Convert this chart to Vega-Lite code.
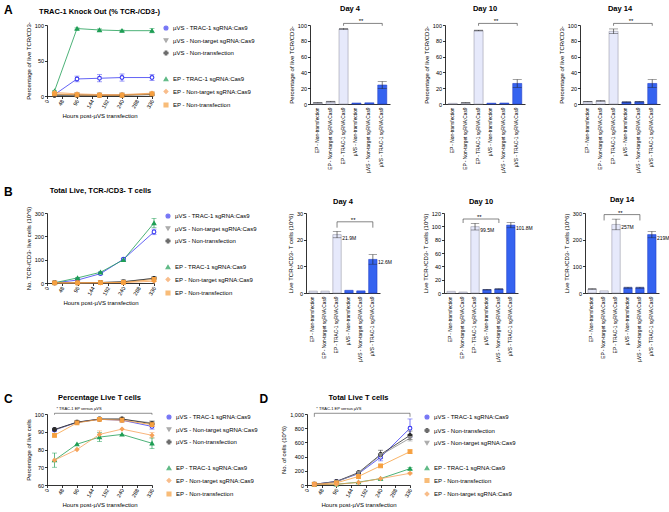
{
"$schema": "https://vega.github.io/schema/vega-lite/v6.json",
"padding": {"left": 3, "top": 3, "right": 2, "bottom": 2},
"config": {
 "font": "Liberation Sans",
 "view": {"stroke": null},
 "axis": {"grid": false, "domainColor": "#000", "domainWidth": 0.8, "tickColor": "#000", "tickWidth": 0.8, "tickSize": 2.5, "labelFontSize": 5.5, "labelColor": "#000", "titleFontSize": 6, "titleFontWeight": "normal", "titleColor": "#000", "labelPadding": 1, "titlePadding": 3, "labelOverlap": false, "labelFlush": false},
 "title": {"fontSize": 7.5, "fontWeight": "bold", "offset": 6, "color": "#000"},
 "legend": {"labelFontSize": 6, "symbolSize": 16, "rowPadding": 3.5, "padding": 0, "offset": 9, "labelLimit": 200, "symbolStrokeWidth": 1.1, "labelOffset": 4, "title": null}
},
"datasets": {
 "lineA": [
  {"g":"µVS - TRAC-1 sgRNA:Cas9","h":24,"v":2,"e":1},{"g":"µVS - TRAC-1 sgRNA:Cas9","h":96,"v":24,"e":4},{"g":"µVS - TRAC-1 sgRNA:Cas9","h":168,"v":25,"e":5},{"g":"µVS - TRAC-1 sgRNA:Cas9","h":240,"v":26,"e":5},{"g":"µVS - TRAC-1 sgRNA:Cas9","h":336,"v":26,"e":4},
  {"g":"µVS - Non-target sgRNA:Cas9","h":24,"v":2,"e":0},{"g":"µVS - Non-target sgRNA:Cas9","h":96,"v":2,"e":0},{"g":"µVS - Non-target sgRNA:Cas9","h":168,"v":1.5,"e":0},{"g":"µVS - Non-target sgRNA:Cas9","h":240,"v":1.5,"e":0},{"g":"µVS - Non-target sgRNA:Cas9","h":336,"v":3,"e":0},
  {"g":"µVS - Non-transfection","h":24,"v":1,"e":0},{"g":"µVS - Non-transfection","h":96,"v":1,"e":0},{"g":"µVS - Non-transfection","h":168,"v":1,"e":0},{"g":"µVS - Non-transfection","h":240,"v":1,"e":0},{"g":"µVS - Non-transfection","h":336,"v":2,"e":0},
  {"g":"EP - TRAC-1 sgRNA:Cas9","h":24,"v":7,"e":1},{"g":"EP - TRAC-1 sgRNA:Cas9","h":96,"v":95,"e":1},{"g":"EP - TRAC-1 sgRNA:Cas9","h":168,"v":93,"e":1.5},{"g":"EP - TRAC-1 sgRNA:Cas9","h":240,"v":92,"e":1},{"g":"EP - TRAC-1 sgRNA:Cas9","h":336,"v":92,"e":3},
  {"g":"EP - Non-target sgRNA:Cas9","h":24,"v":5,"e":0},{"g":"EP - Non-target sgRNA:Cas9","h":96,"v":3,"e":0},{"g":"EP - Non-target sgRNA:Cas9","h":168,"v":2,"e":0},{"g":"EP - Non-target sgRNA:Cas9","h":240,"v":2,"e":0},{"g":"EP - Non-target sgRNA:Cas9","h":336,"v":4,"e":0},
  {"g":"EP - Non-transfection","h":24,"v":3,"e":0},{"g":"EP - Non-transfection","h":96,"v":1.5,"e":0},{"g":"EP - Non-transfection","h":168,"v":1,"e":0},{"g":"EP - Non-transfection","h":240,"v":1,"e":0},{"g":"EP - Non-transfection","h":336,"v":3,"e":0}
 ],
 "lineB": [
  {"g":"µVS - TRAC-1 sgRNA:Cas9","h":24,"v":1,"e":0},{"g":"µVS - TRAC-1 sgRNA:Cas9","h":96,"v":12.6,"e":1.8},{"g":"µVS - TRAC-1 sgRNA:Cas9","h":168,"v":40,"e":3},{"g":"µVS - TRAC-1 sgRNA:Cas9","h":240,"v":101.8,"e":4},{"g":"µVS - TRAC-1 sgRNA:Cas9","h":336,"v":219,"e":12},
  {"g":"µVS - Non-target sgRNA:Cas9","h":24,"v":0.5,"e":0},{"g":"µVS - Non-target sgRNA:Cas9","h":96,"v":0.8,"e":0},{"g":"µVS - Non-target sgRNA:Cas9","h":168,"v":2,"e":0},{"g":"µVS - Non-target sgRNA:Cas9","h":240,"v":6,"e":0},{"g":"µVS - Non-target sgRNA:Cas9","h":336,"v":20,"e":2},
  {"g":"µVS - Non-transfection","h":24,"v":0.5,"e":0},{"g":"µVS - Non-transfection","h":96,"v":1,"e":0},{"g":"µVS - Non-transfection","h":168,"v":2,"e":0},{"g":"µVS - Non-transfection","h":240,"v":5,"e":0},{"g":"µVS - Non-transfection","h":336,"v":20,"e":0},
  {"g":"EP - TRAC-1 sgRNA:Cas9","h":24,"v":1,"e":0},{"g":"EP - TRAC-1 sgRNA:Cas9","h":96,"v":21.9,"e":1.2},{"g":"EP - TRAC-1 sgRNA:Cas9","h":168,"v":46,"e":2},{"g":"EP - TRAC-1 sgRNA:Cas9","h":240,"v":99.5,"e":5},{"g":"EP - TRAC-1 sgRNA:Cas9","h":336,"v":257,"e":20},
  {"g":"EP - Non-target sgRNA:Cas9","h":24,"v":0.5,"e":0},{"g":"EP - Non-target sgRNA:Cas9","h":96,"v":0.7,"e":0},{"g":"EP - Non-target sgRNA:Cas9","h":168,"v":1,"e":0},{"g":"EP - Non-target sgRNA:Cas9","h":240,"v":1.5,"e":0},{"g":"EP - Non-target sgRNA:Cas9","h":336,"v":8,"e":0},
  {"g":"EP - Non-transfection","h":24,"v":0.5,"e":0},{"g":"EP - Non-transfection","h":96,"v":0.7,"e":0},{"g":"EP - Non-transfection","h":168,"v":1.5,"e":0},{"g":"EP - Non-transfection","h":240,"v":2.5,"e":0},{"g":"EP - Non-transfection","h":336,"v":15,"e":0}
 ],
 "lineC": [
  {"g":"µVS - TRAC-1 sgRNA:Cas9","h":24,"v":91,"e":1},{"g":"µVS - TRAC-1 sgRNA:Cas9","h":96,"v":95.3,"e":0},{"g":"µVS - TRAC-1 sgRNA:Cas9","h":168,"v":97,"e":0},{"g":"µVS - TRAC-1 sgRNA:Cas9","h":240,"v":96.5,"e":0.8},{"g":"µVS - TRAC-1 sgRNA:Cas9","h":336,"v":93,"e":1.5},
  {"g":"µVS - Non-target sgRNA:Cas9","h":24,"v":91,"e":0},{"g":"µVS - Non-target sgRNA:Cas9","h":96,"v":95.3,"e":0},{"g":"µVS - Non-target sgRNA:Cas9","h":168,"v":97,"e":0},{"g":"µVS - Non-target sgRNA:Cas9","h":240,"v":97,"e":0},{"g":"µVS - Non-target sgRNA:Cas9","h":336,"v":95,"e":1},
  {"g":"µVS - Non-transfection","h":24,"v":91.3,"e":0},{"g":"µVS - Non-transfection","h":96,"v":95.4,"e":0},{"g":"µVS - Non-transfection","h":168,"v":97.2,"e":0},{"g":"µVS - Non-transfection","h":240,"v":97.2,"e":0},{"g":"µVS - Non-transfection","h":336,"v":94.5,"e":0},
  {"g":"EP - TRAC-1 sgRNA:Cas9","h":24,"v":74,"e":4},{"g":"EP - TRAC-1 sgRNA:Cas9","h":96,"v":83,"e":0},{"g":"EP - TRAC-1 sgRNA:Cas9","h":168,"v":87,"e":2.5},{"g":"EP - TRAC-1 sgRNA:Cas9","h":240,"v":88.5,"e":0},{"g":"EP - TRAC-1 sgRNA:Cas9","h":336,"v":83.5,"e":3},
  {"g":"EP - Non-target sgRNA:Cas9","h":24,"v":74,"e":0},{"g":"EP - Non-target sgRNA:Cas9","h":96,"v":80,"e":0},{"g":"EP - Non-target sgRNA:Cas9","h":168,"v":88.5,"e":2},{"g":"EP - Non-target sgRNA:Cas9","h":240,"v":91.5,"e":0},{"g":"EP - Non-target sgRNA:Cas9","h":336,"v":88,"e":1.5},
  {"g":"EP - Non-transfection","h":24,"v":88,"e":1},{"g":"EP - Non-transfection","h":96,"v":95,"e":0},{"g":"EP - Non-transfection","h":168,"v":97,"e":0},{"g":"EP - Non-transfection","h":240,"v":96.5,"e":0},{"g":"EP - Non-transfection","h":336,"v":94,"e":0}
 ],
 "lineD": [
  {"g":"µVS - TRAC-1 sgRNA:Cas9","h":24,"v":10,"e":0},{"g":"µVS - TRAC-1 sgRNA:Cas9","h":96,"v":50,"e":0},{"g":"µVS - TRAC-1 sgRNA:Cas9","h":168,"v":160,"e":0},{"g":"µVS - TRAC-1 sgRNA:Cas9","h":240,"v":390,"e":50},{"g":"µVS - TRAC-1 sgRNA:Cas9","h":336,"v":800,"e":130},
  {"g":"µVS - Non-transfection","h":24,"v":10,"e":0},{"g":"µVS - Non-transfection","h":96,"v":50,"e":0},{"g":"µVS - Non-transfection","h":168,"v":175,"e":15},{"g":"µVS - Non-transfection","h":240,"v":430,"e":60},{"g":"µVS - Non-transfection","h":336,"v":700,"e":60},
  {"g":"µVS - Non-target sgRNA:Cas9","h":24,"v":10,"e":0},{"g":"µVS - Non-target sgRNA:Cas9","h":96,"v":45,"e":0},{"g":"µVS - Non-target sgRNA:Cas9","h":168,"v":165,"e":0},{"g":"µVS - Non-target sgRNA:Cas9","h":240,"v":420,"e":0},{"g":"µVS - Non-target sgRNA:Cas9","h":336,"v":660,"e":40},
  {"g":"EP - TRAC-1 sgRNA:Cas9","h":24,"v":5,"e":0},{"g":"EP - TRAC-1 sgRNA:Cas9","h":96,"v":10,"e":0},{"g":"EP - TRAC-1 sgRNA:Cas9","h":168,"v":40,"e":0},{"g":"EP - TRAC-1 sgRNA:Cas9","h":240,"v":90,"e":0},{"g":"EP - TRAC-1 sgRNA:Cas9","h":336,"v":230,"e":15},
  {"g":"EP - Non-transfection","h":24,"v":10,"e":0},{"g":"EP - Non-transfection","h":96,"v":30,"e":0},{"g":"EP - Non-transfection","h":168,"v":120,"e":0},{"g":"EP - Non-transfection","h":240,"v":270,"e":0},{"g":"EP - Non-transfection","h":336,"v":470,"e":25},
  {"g":"EP - Non-target sgRNA:Cas9","h":24,"v":5,"e":0},{"g":"EP - Non-target sgRNA:Cas9","h":96,"v":10,"e":0},{"g":"EP - Non-target sgRNA:Cas9","h":168,"v":35,"e":0},{"g":"EP - Non-target sgRNA:Cas9","h":240,"v":90,"e":0},{"g":"EP - Non-target sgRNA:Cas9","h":336,"v":165,"e":10}
 ],
 "brC": [{"h":24,"h2":336,"v":100.4,"v2":99.6,"s":"* TRAC-1 EP versus µVS"}],
 "brD": [{"h":24,"h2":336,"v":1010,"v2":960,"s":"* TRAC-1 EP versus µVS"}],
 "barA4": [
  {"g":"EP - Non-transfection","t":"EP","v":1.5,"e":0.3},{"g":"EP - Non-target sgRNA:Cas9","t":"EP","v":3,"e":0.5},{"g":"EP - TRAC-1 sgRNA:Cas9","t":"EP","v":95,"e":0.8},
  {"g":"µVS - Non-transfection","t":"µVS","v":1.2,"e":0},{"g":"µVS - Non-target sgRNA:Cas9","t":"µVS","v":1.5,"e":0},{"g":"µVS - TRAC-1 sgRNA:Cas9","t":"µVS","v":24,"e":4.5}
 ],
 "barA10": [
  {"g":"EP - Non-transfection","t":"EP","v":0.8,"e":0},{"g":"EP - Non-target sgRNA:Cas9","t":"EP","v":1.5,"e":0.3},{"g":"EP - TRAC-1 sgRNA:Cas9","t":"EP","v":93,"e":0.5},
  {"g":"µVS - Non-transfection","t":"µVS","v":1,"e":0},{"g":"µVS - Non-target sgRNA:Cas9","t":"µVS","v":1.2,"e":0},{"g":"µVS - TRAC-1 sgRNA:Cas9","t":"µVS","v":26,"e":5}
 ],
 "barA14": [
  {"g":"EP - Non-transfection","t":"EP","v":3,"e":0.3},{"g":"EP - Non-target sgRNA:Cas9","t":"EP","v":4,"e":0.5},{"g":"EP - TRAC-1 sgRNA:Cas9","t":"EP","v":92,"e":3},
  {"g":"µVS - Non-transfection","t":"µVS","v":2.5,"e":0.3},{"g":"µVS - Non-target sgRNA:Cas9","t":"µVS","v":2.8,"e":0.3},{"g":"µVS - TRAC-1 sgRNA:Cas9","t":"µVS","v":26,"e":5}
 ],
 "barB4": [
  {"g":"EP - Non-transfection","t":"EP","v":0.7,"e":0,"lab":""},{"g":"EP - Non-target sgRNA:Cas9","t":"EP","v":0.7,"e":0,"lab":""},{"g":"EP - TRAC-1 sgRNA:Cas9","t":"EP","v":21.9,"e":1.2,"lab":"21.9M"},
  {"g":"µVS - Non-transfection","t":"µVS","v":1,"e":0,"lab":""},{"g":"µVS - Non-target sgRNA:Cas9","t":"µVS","v":0.8,"e":0,"lab":""},{"g":"µVS - TRAC-1 sgRNA:Cas9","t":"µVS","v":12.6,"e":1.8,"lab":"12.6M"}
 ],
 "barB10": [
  {"g":"EP - Non-transfection","t":"EP","v":2.5,"e":0,"lab":""},{"g":"EP - Non-target sgRNA:Cas9","t":"EP","v":1.5,"e":0,"lab":""},{"g":"EP - TRAC-1 sgRNA:Cas9","t":"EP","v":99.5,"e":5,"lab":"99.5M"},
  {"g":"µVS - Non-transfection","t":"µVS","v":5,"e":0.5,"lab":""},{"g":"µVS - Non-target sgRNA:Cas9","t":"µVS","v":6,"e":0.5,"lab":""},{"g":"µVS - TRAC-1 sgRNA:Cas9","t":"µVS","v":101.8,"e":4,"lab":"101.8M"}
 ],
 "barB14": [
  {"g":"EP - Non-transfection","t":"EP","v":15,"e":1,"lab":""},{"g":"EP - Non-target sgRNA:Cas9","t":"EP","v":8,"e":0,"lab":""},{"g":"EP - TRAC-1 sgRNA:Cas9","t":"EP","v":257,"e":20,"lab":"257M"},
  {"g":"µVS - Non-transfection","t":"µVS","v":20,"e":2,"lab":""},{"g":"µVS - Non-target sgRNA:Cas9","t":"µVS","v":20,"e":2,"lab":""},{"g":"µVS - TRAC-1 sgRNA:Cas9","t":"µVS","v":219,"e":12,"lab":"219M"}
 ],
 "brA": [{"g":"EP - TRAC-1 sgRNA:Cas9","g2":"µVS - TRAC-1 sgRNA:Cas9","m":"µVS - Non-transfection","v":102,"v0":99,"s":"**"}],
 "brB4": [{"g":"EP - TRAC-1 sgRNA:Cas9","g2":"µVS - TRAC-1 sgRNA:Cas9","m":"µVS - Non-transfection","v":26.7,"v0":24.5,"s":"**"}],
 "brB10": [{"g":"EP - Non-target sgRNA:Cas9","g2":"µVS - Non-target sgRNA:Cas9","m":"EP - TRAC-1 sgRNA:Cas9","v":111,"v0":105,"s":"**"}],
 "brB14": [{"g":"EP - Non-target sgRNA:Cas9","g2":"µVS - Non-target sgRNA:Cas9","m":"EP - TRAC-1 sgRNA:Cas9","v":294,"v0":272,"s":"**"}]
},
"resolve": {"scale": {"color": "independent", "fill": "independent", "stroke": "independent", "shape": "independent"}},
"spacing": 30,
"vconcat": [
 {
 "spacing": 12,
 "resolve": {"scale": {"color": "independent", "fill": "independent", "stroke": "independent", "shape": "independent"}},
 "vconcat": [
 {
  "title": {"text": "A", "orient": "left", "anchor": "end", "angle": 0, "baseline": "top", "fontSize": 12, "fontWeight": "bold", "offset": 4},
  "spacing": 33,
  "resolve": {"scale": {"color": "independent", "fill": "independent", "stroke": "independent", "shape": "independent"}},
  "hconcat": [
   {
    "title": {"text": "TRAC-1 Knock Out (% TCR-/CD3-)"},
    "width": 105, "height": 71,
    "data": {"name": "lineA"},
    "encoding": {
     "x": {"field": "h", "type": "quantitative", "scale": {"domain": [0, 336], "nice": false}, "axis": {"values": [0, 48, 96, 144, 192, 240, 288, 336], "labelAngle": -60, "title": "Hours post-µVS transfection"}},
     "y": {"field": "v", "type": "quantitative", "scale": {"domain": [0, 100], "nice": false}, "axis": {"values": [0, 50, 100], "title": "Percentage of live TCR/CD3-"}}
    },
    "layer": [
     {"mark": {"type": "line", "strokeWidth": 0.8},
      "encoding": {"color": {"field": "g", "type": "nominal", "scale": {"domain": ["µVS - TRAC-1 sgRNA:Cas9","µVS - Non-target sgRNA:Cas9","µVS - Non-transfection"," ","EP - TRAC-1 sgRNA:Cas9","EP - Non-target sgRNA:Cas9","EP - Non-transfection"], "range": ["#3b3bf2","#8a8a8a","#2b2b2b","rgba(0,0,0,0)","#1f9e55","#f6a25a","#f6a040"]}, "legend": {"title": null}}}},
     {"transform": [{"filter": "datum.e > 0"}], "mark": {"type": "errorbar", "ticks": true, "thickness": 0.7},
      "encoding": {"yError": {"field": "e"}, "color": {"field": "g", "type": "nominal"}}},
     {"mark": {"type": "point", "filled": false, "size": 14, "strokeWidth": 1.1, "opacity": 1},
      "encoding": {
       "color": {"field": "g", "type": "nominal"},
       "fill": {"field": "g", "type": "nominal", "scale": {"domain": ["µVS - TRAC-1 sgRNA:Cas9","µVS - Non-target sgRNA:Cas9","µVS - Non-transfection"," ","EP - TRAC-1 sgRNA:Cas9","EP - Non-target sgRNA:Cas9","EP - Non-transfection"], "range": ["#ffffff","#8a8a8a","#2b2b2b","rgba(0,0,0,0)","#1f9e55","#f6a25a","#f6a040"]}, "legend": {"title": null}},
       "shape": {"field": "g", "type": "nominal", "scale": {"domain": ["µVS - TRAC-1 sgRNA:Cas9","µVS - Non-target sgRNA:Cas9","µVS - Non-transfection"," ","EP - TRAC-1 sgRNA:Cas9","EP - Non-target sgRNA:Cas9","EP - Non-transfection"], "range": ["circle","triangle-down","cross","circle","triangle-up","diamond","square"]}, "legend": {"title": null}}
      }}
    ]
   },
   {
    "title": {"text": "Day 4"}, "width": 80, "height": 79,
    "encoding": {
     "x": {"field": "g", "type": "nominal", "scale": {"domain": ["EP - Non-transfection","EP - Non-target sgRNA:Cas9","EP - TRAC-1 sgRNA:Cas9","µVS - Non-transfection","µVS - Non-target sgRNA:Cas9","µVS - TRAC-1 sgRNA:Cas9"], "paddingInner": 0.3, "paddingOuter": 0.25}, "axis": {"labelAngle": -90, "ticks": false, "labelPadding": 3, "labelFontSize": 4.8, "title": null}},
     "y": {"field": "v", "type": "quantitative", "scale": {"domain": [0, 100], "nice": false}, "axis": {"values": [0, 20, 40, 60, 80, 100], "title": "Percentage of live TCR/CD3-"}}
    },
    "layer": [
     {"data": {"name": "barA4"}, "mark": {"type": "bar", "strokeWidth": 0.6},
      "encoding": {
       "fill": {"field": "t", "type": "nominal", "scale": {"domain": ["EP", "µVS"], "range": ["#e6e9fb", "#3563f0"]}, "legend": null},
       "stroke": {"field": "t", "type": "nominal", "scale": {"domain": ["EP", "µVS"], "range": ["#9a9aaa", "#2340c8"]}, "legend": null}}},
     {"data": {"name": "barA4"}, "transform": [{"filter": "datum.e > 0"}], "mark": {"type": "errorbar", "ticks": true, "color": "#222", "thickness": 0.6}, "encoding": {"yError": {"field": "e"}}},
     {"data": {"name": "brA"}, "mark": {"type": "rule", "strokeWidth": 0.6, "color": "#333"}, "encoding": {"x2": {"field": "g2"}}},
     {"data": {"name": "brA"}, "mark": {"type": "rule", "strokeWidth": 0.6, "color": "#333"}, "encoding": {"y2": {"field": "v0"}}},
     {"data": {"name": "brA"}, "mark": {"type": "rule", "strokeWidth": 0.6, "color": "#333"},
      "encoding": {"x": {"field": "g2", "type": "nominal", "scale": {"domain": ["EP - Non-transfection","EP - Non-target sgRNA:Cas9","EP - TRAC-1 sgRNA:Cas9","µVS - Non-transfection","µVS - Non-target sgRNA:Cas9","µVS - TRAC-1 sgRNA:Cas9"], "paddingInner": 0.3, "paddingOuter": 0.25}, "axis": {"labelAngle": -90, "ticks": false, "labelPadding": 3, "labelFontSize": 4.8, "title": null}}, "y2": {"field": "v0"}}},
     {"data": {"name": "brA"}, "mark": {"type": "text", "fontSize": 6, "baseline": "bottom", "dy": 1},
      "encoding": {"x": {"field": "m", "type": "nominal", "bandPosition": 1, "scale": {"domain": ["EP - Non-transfection","EP - Non-target sgRNA:Cas9","EP - TRAC-1 sgRNA:Cas9","µVS - Non-transfection","µVS - Non-target sgRNA:Cas9","µVS - TRAC-1 sgRNA:Cas9"], "paddingInner": 0.3, "paddingOuter": 0.25}, "axis": {"labelAngle": -90, "ticks": false, "labelPadding": 3, "labelFontSize": 4.8, "title": null}}, "text": {"field": "s"}}}
    ]
   },
   {
    "title": {"text": "Day 10"}, "width": 80, "height": 79,
    "encoding": {
     "x": {"field": "g", "type": "nominal", "scale": {"domain": ["EP - Non-transfection","EP - Non-target sgRNA:Cas9","EP - TRAC-1 sgRNA:Cas9","µVS - Non-transfection","µVS - Non-target sgRNA:Cas9","µVS - TRAC-1 sgRNA:Cas9"], "paddingInner": 0.3, "paddingOuter": 0.25}, "axis": {"labelAngle": -90, "ticks": false, "labelPadding": 3, "labelFontSize": 4.8, "title": null}},
     "y": {"field": "v", "type": "quantitative", "scale": {"domain": [0, 100], "nice": false}, "axis": {"values": [0, 20, 40, 60, 80, 100], "title": "Percentage of live TCR/CD3-"}}
    },
    "layer": [
     {"data": {"name": "barA10"}, "mark": {"type": "bar", "strokeWidth": 0.6},
      "encoding": {
       "fill": {"field": "t", "type": "nominal", "scale": {"domain": ["EP", "µVS"], "range": ["#e6e9fb", "#3563f0"]}, "legend": null},
       "stroke": {"field": "t", "type": "nominal", "scale": {"domain": ["EP", "µVS"], "range": ["#9a9aaa", "#2340c8"]}, "legend": null}}},
     {"data": {"name": "barA10"}, "transform": [{"filter": "datum.e > 0"}], "mark": {"type": "errorbar", "ticks": true, "color": "#222", "thickness": 0.6}, "encoding": {"yError": {"field": "e"}}},
     {"data": {"name": "brA"}, "mark": {"type": "rule", "strokeWidth": 0.6, "color": "#333"}, "encoding": {"x2": {"field": "g2"}}},
     {"data": {"name": "brA"}, "mark": {"type": "rule", "strokeWidth": 0.6, "color": "#333"}, "encoding": {"y2": {"field": "v0"}}},
     {"data": {"name": "brA"}, "mark": {"type": "rule", "strokeWidth": 0.6, "color": "#333"},
      "encoding": {"x": {"field": "g2", "type": "nominal", "scale": {"domain": ["EP - Non-transfection","EP - Non-target sgRNA:Cas9","EP - TRAC-1 sgRNA:Cas9","µVS - Non-transfection","µVS - Non-target sgRNA:Cas9","µVS - TRAC-1 sgRNA:Cas9"], "paddingInner": 0.3, "paddingOuter": 0.25}, "axis": {"labelAngle": -90, "ticks": false, "labelPadding": 3, "labelFontSize": 4.8, "title": null}}, "y2": {"field": "v0"}}},
     {"data": {"name": "brA"}, "mark": {"type": "text", "fontSize": 6, "baseline": "bottom", "dy": 1},
      "encoding": {"x": {"field": "m", "type": "nominal", "bandPosition": 1, "scale": {"domain": ["EP - Non-transfection","EP - Non-target sgRNA:Cas9","EP - TRAC-1 sgRNA:Cas9","µVS - Non-transfection","µVS - Non-target sgRNA:Cas9","µVS - TRAC-1 sgRNA:Cas9"], "paddingInner": 0.3, "paddingOuter": 0.25}, "axis": {"labelAngle": -90, "ticks": false, "labelPadding": 3, "labelFontSize": 4.8, "title": null}}, "text": {"field": "s"}}}
    ]
   },
   {
    "title": {"text": "Day 14"}, "width": 80, "height": 79,
    "encoding": {
     "x": {"field": "g", "type": "nominal", "scale": {"domain": ["EP - Non-transfection","EP - Non-target sgRNA:Cas9","EP - TRAC-1 sgRNA:Cas9","µVS - Non-transfection","µVS - Non-target sgRNA:Cas9","µVS - TRAC-1 sgRNA:Cas9"], "paddingInner": 0.3, "paddingOuter": 0.25}, "axis": {"labelAngle": -90, "ticks": false, "labelPadding": 3, "labelFontSize": 4.8, "title": null}},
     "y": {"field": "v", "type": "quantitative", "scale": {"domain": [0, 100], "nice": false}, "axis": {"values": [0, 20, 40, 60, 80, 100], "title": "Percentage of live TCR/CD3-"}}
    },
    "layer": [
     {"data": {"name": "barA14"}, "mark": {"type": "bar", "strokeWidth": 0.6},
      "encoding": {
       "fill": {"field": "t", "type": "nominal", "scale": {"domain": ["EP", "µVS"], "range": ["#e6e9fb", "#3563f0"]}, "legend": null},
       "stroke": {"field": "t", "type": "nominal", "scale": {"domain": ["EP", "µVS"], "range": ["#9a9aaa", "#2340c8"]}, "legend": null}}},
     {"data": {"name": "barA14"}, "transform": [{"filter": "datum.e > 0"}], "mark": {"type": "errorbar", "ticks": true, "color": "#222", "thickness": 0.6}, "encoding": {"yError": {"field": "e"}}},
     {"data": {"name": "brA"}, "mark": {"type": "rule", "strokeWidth": 0.6, "color": "#333"}, "encoding": {"x2": {"field": "g2"}}},
     {"data": {"name": "brA"}, "mark": {"type": "rule", "strokeWidth": 0.6, "color": "#333"}, "encoding": {"y2": {"field": "v0"}}},
     {"data": {"name": "brA"}, "mark": {"type": "rule", "strokeWidth": 0.6, "color": "#333"},
      "encoding": {"x": {"field": "g2", "type": "nominal", "scale": {"domain": ["EP - Non-transfection","EP - Non-target sgRNA:Cas9","EP - TRAC-1 sgRNA:Cas9","µVS - Non-transfection","µVS - Non-target sgRNA:Cas9","µVS - TRAC-1 sgRNA:Cas9"], "paddingInner": 0.3, "paddingOuter": 0.25}, "axis": {"labelAngle": -90, "ticks": false, "labelPadding": 3, "labelFontSize": 4.8, "title": null}}, "y2": {"field": "v0"}}},
     {"data": {"name": "brA"}, "mark": {"type": "text", "fontSize": 6, "baseline": "bottom", "dy": 1},
      "encoding": {"x": {"field": "m", "type": "nominal", "bandPosition": 1, "scale": {"domain": ["EP - Non-transfection","EP - Non-target sgRNA:Cas9","EP - TRAC-1 sgRNA:Cas9","µVS - Non-transfection","µVS - Non-target sgRNA:Cas9","µVS - TRAC-1 sgRNA:Cas9"], "paddingInner": 0.3, "paddingOuter": 0.25}, "axis": {"labelAngle": -90, "ticks": false, "labelPadding": 3, "labelFontSize": 4.8, "title": null}}, "text": {"field": "s"}}}
    ]
   }
  ]
 },
 {
  "title": {"text": "B", "orient": "left", "anchor": "end", "angle": 0, "baseline": "top", "fontSize": 12, "fontWeight": "bold", "offset": 4},
  "spacing": 30,
  "resolve": {"scale": {"color": "independent", "fill": "independent", "stroke": "independent", "shape": "independent"}},
  "hconcat": [
   {
    "title": {"text": "Total Live, TCR-/CD3- T cells", "offset": 12},
    "width": 107, "height": 70,
    "data": {"name": "lineB"},
    "encoding": {
     "x": {"field": "h", "type": "quantitative", "scale": {"domain": [0, 336], "nice": false}, "axis": {"values": [0, 48, 96, 144, 192, 240, 288, 336], "labelAngle": -60, "title": "Hours post-µVS transfection"}},
     "y": {"field": "v", "type": "quantitative", "scale": {"domain": [0, 300], "nice": false}, "axis": {"values": [0, 100, 200, 300], "title": "No. TCR-/CD3- live cells (10^6)"}}
    },
    "layer": [
     {"mark": {"type": "line", "strokeWidth": 0.8},
      "encoding": {"color": {"field": "g", "type": "nominal", "scale": {"domain": ["µVS - TRAC-1 sgRNA:Cas9","µVS - Non-target sgRNA:Cas9","µVS - Non-transfection"," ","EP - TRAC-1 sgRNA:Cas9","EP - Non-target sgRNA:Cas9","EP - Non-transfection"], "range": ["#3b3bf2","#8a8a8a","#2b2b2b","rgba(0,0,0,0)","#1f9e55","#f6a25a","#f6a040"]}, "legend": {"title": null}}}},
     {"transform": [{"filter": "datum.e > 0"}], "mark": {"type": "errorbar", "ticks": true, "thickness": 0.7},
      "encoding": {"yError": {"field": "e"}, "color": {"field": "g", "type": "nominal"}}},
     {"mark": {"type": "point", "filled": false, "size": 14, "strokeWidth": 1.1, "opacity": 1},
      "encoding": {
       "color": {"field": "g", "type": "nominal"},
       "fill": {"field": "g", "type": "nominal", "scale": {"domain": ["µVS - TRAC-1 sgRNA:Cas9","µVS - Non-target sgRNA:Cas9","µVS - Non-transfection"," ","EP - TRAC-1 sgRNA:Cas9","EP - Non-target sgRNA:Cas9","EP - Non-transfection"], "range": ["#ffffff","#8a8a8a","#2b2b2b","rgba(0,0,0,0)","#1f9e55","#f6a25a","#f6a040"]}, "legend": {"title": null}},
       "shape": {"field": "g", "type": "nominal", "scale": {"domain": ["µVS - TRAC-1 sgRNA:Cas9","µVS - Non-target sgRNA:Cas9","µVS - Non-transfection"," ","EP - TRAC-1 sgRNA:Cas9","EP - Non-target sgRNA:Cas9","EP - Non-transfection"], "range": ["circle","triangle-down","cross","circle","triangle-up","diamond","square"]}, "legend": {"title": null}}
      }}
    ]
   },
   {
    "title": {"text": "Day 4"}, "width": 74, "height": 80,
    "encoding": {
     "x": {"field": "g", "type": "nominal", "scale": {"domain": ["EP - Non-transfection","EP - Non-target sgRNA:Cas9","EP - TRAC-1 sgRNA:Cas9","µVS - Non-transfection","µVS - Non-target sgRNA:Cas9","µVS - TRAC-1 sgRNA:Cas9"], "paddingInner": 0.3, "paddingOuter": 0.25}, "axis": {"labelAngle": -90, "ticks": false, "labelPadding": 3, "labelFontSize": 4.8, "title": null}},
     "y": {"field": "v", "type": "quantitative", "scale": {"domain": [0, 30], "nice": false}, "axis": {"values": [0, 10, 20, 30], "title": "Live TCR-/CD3- T cells (10^6)"}}
    },
    "layer": [
     {"data": {"name": "barB4"}, "mark": {"type": "bar", "strokeWidth": 0.6},
      "encoding": {
       "fill": {"field": "t", "type": "nominal", "scale": {"domain": ["EP", "µVS"], "range": ["#e6e9fb", "#3563f0"]}, "legend": null},
       "stroke": {"field": "t", "type": "nominal", "scale": {"domain": ["EP", "µVS"], "range": ["#9a9aaa", "#2340c8"]}, "legend": null}}},
     {"data": {"name": "barB4"}, "transform": [{"filter": "datum.e > 0"}], "mark": {"type": "errorbar", "ticks": true, "color": "#222", "thickness": 0.6}, "encoding": {"yError": {"field": "e"}}},
     {"data": {"name": "barB4"}, "transform": [{"filter": "datum.lab != ''"}], "mark": {"type": "text", "fontSize": 5, "align": "left", "baseline": "middle", "dx": 1, "dy": 3},
      "encoding": {"x": {"field": "g", "type": "nominal", "bandPosition": 1, "scale": {"domain": ["EP - Non-transfection","EP - Non-target sgRNA:Cas9","EP - TRAC-1 sgRNA:Cas9","µVS - Non-transfection","µVS - Non-target sgRNA:Cas9","µVS - TRAC-1 sgRNA:Cas9"], "paddingInner": 0.3, "paddingOuter": 0.25}, "axis": {"labelAngle": -90, "ticks": false, "labelPadding": 3, "labelFontSize": 4.8, "title": null}}, "text": {"field": "lab"}}},
     {"data": {"name": "brB4"}, "mark": {"type": "rule", "strokeWidth": 0.6, "color": "#333"}, "encoding": {"x2": {"field": "g2"}}},
     {"data": {"name": "brB4"}, "mark": {"type": "rule", "strokeWidth": 0.6, "color": "#333"}, "encoding": {"y2": {"field": "v0"}}},
     {"data": {"name": "brB4"}, "mark": {"type": "rule", "strokeWidth": 0.6, "color": "#333"},
      "encoding": {"x": {"field": "g2", "type": "nominal", "scale": {"domain": ["EP - Non-transfection","EP - Non-target sgRNA:Cas9","EP - TRAC-1 sgRNA:Cas9","µVS - Non-transfection","µVS - Non-target sgRNA:Cas9","µVS - TRAC-1 sgRNA:Cas9"], "paddingInner": 0.3, "paddingOuter": 0.25}, "axis": {"labelAngle": -90, "ticks": false, "labelPadding": 3, "labelFontSize": 4.8, "title": null}}, "y2": {"field": "v0"}}},
     {"data": {"name": "brB4"}, "mark": {"type": "text", "fontSize": 6, "baseline": "bottom", "dy": 1},
      "encoding": {"x": {"field": "m", "type": "nominal", "bandPosition": 1, "scale": {"domain": ["EP - Non-transfection","EP - Non-target sgRNA:Cas9","EP - TRAC-1 sgRNA:Cas9","µVS - Non-transfection","µVS - Non-target sgRNA:Cas9","µVS - TRAC-1 sgRNA:Cas9"], "paddingInner": 0.3, "paddingOuter": 0.25}, "axis": {"labelAngle": -90, "ticks": false, "labelPadding": 3, "labelFontSize": 4.8, "title": null}}, "text": {"field": "s"}}}
    ]
   },
   {
    "title": {"text": "Day 10"}, "width": 74, "height": 80,
    "encoding": {
     "x": {"field": "g", "type": "nominal", "scale": {"domain": ["EP - Non-transfection","EP - Non-target sgRNA:Cas9","EP - TRAC-1 sgRNA:Cas9","µVS - Non-transfection","µVS - Non-target sgRNA:Cas9","µVS - TRAC-1 sgRNA:Cas9"], "paddingInner": 0.3, "paddingOuter": 0.25}, "axis": {"labelAngle": -90, "ticks": false, "labelPadding": 3, "labelFontSize": 4.8, "title": null}},
     "y": {"field": "v", "type": "quantitative", "scale": {"domain": [0, 120], "nice": false}, "axis": {"values": [0, 20, 40, 60, 80, 100, 120], "title": "Live TCR-/CD3- T cells (10^6)"}}
    },
    "layer": [
     {"data": {"name": "barB10"}, "mark": {"type": "bar", "strokeWidth": 0.6},
      "encoding": {
       "fill": {"field": "t", "type": "nominal", "scale": {"domain": ["EP", "µVS"], "range": ["#e6e9fb", "#3563f0"]}, "legend": null},
       "stroke": {"field": "t", "type": "nominal", "scale": {"domain": ["EP", "µVS"], "range": ["#9a9aaa", "#2340c8"]}, "legend": null}}},
     {"data": {"name": "barB10"}, "transform": [{"filter": "datum.e > 0"}], "mark": {"type": "errorbar", "ticks": true, "color": "#222", "thickness": 0.6}, "encoding": {"yError": {"field": "e"}}},
     {"data": {"name": "barB10"}, "transform": [{"filter": "datum.lab != ''"}], "mark": {"type": "text", "fontSize": 5, "align": "left", "baseline": "middle", "dx": 1, "dy": 3},
      "encoding": {"x": {"field": "g", "type": "nominal", "bandPosition": 1, "scale": {"domain": ["EP - Non-transfection","EP - Non-target sgRNA:Cas9","EP - TRAC-1 sgRNA:Cas9","µVS - Non-transfection","µVS - Non-target sgRNA:Cas9","µVS - TRAC-1 sgRNA:Cas9"], "paddingInner": 0.3, "paddingOuter": 0.25}, "axis": {"labelAngle": -90, "ticks": false, "labelPadding": 3, "labelFontSize": 4.8, "title": null}}, "text": {"field": "lab"}}},
     {"data": {"name": "brB10"}, "mark": {"type": "rule", "strokeWidth": 0.6, "color": "#333"}, "encoding": {"x2": {"field": "g2"}}},
     {"data": {"name": "brB10"}, "mark": {"type": "rule", "strokeWidth": 0.6, "color": "#333"}, "encoding": {"y2": {"field": "v0"}}},
     {"data": {"name": "brB10"}, "mark": {"type": "rule", "strokeWidth": 0.6, "color": "#333"},
      "encoding": {"x": {"field": "g2", "type": "nominal", "scale": {"domain": ["EP - Non-transfection","EP - Non-target sgRNA:Cas9","EP - TRAC-1 sgRNA:Cas9","µVS - Non-transfection","µVS - Non-target sgRNA:Cas9","µVS - TRAC-1 sgRNA:Cas9"], "paddingInner": 0.3, "paddingOuter": 0.25}, "axis": {"labelAngle": -90, "ticks": false, "labelPadding": 3, "labelFontSize": 4.8, "title": null}}, "y2": {"field": "v0"}}},
     {"data": {"name": "brB10"}, "mark": {"type": "text", "fontSize": 6, "baseline": "bottom", "dy": 1},
      "encoding": {"x": {"field": "m", "type": "nominal", "bandPosition": 1, "scale": {"domain": ["EP - Non-transfection","EP - Non-target sgRNA:Cas9","EP - TRAC-1 sgRNA:Cas9","µVS - Non-transfection","µVS - Non-target sgRNA:Cas9","µVS - TRAC-1 sgRNA:Cas9"], "paddingInner": 0.3, "paddingOuter": 0.25}, "axis": {"labelAngle": -90, "ticks": false, "labelPadding": 3, "labelFontSize": 4.8, "title": null}}, "text": {"field": "s"}}}
    ]
   },
   {
    "title": {"text": "Day 14"}, "width": 74, "height": 80,
    "encoding": {
     "x": {"field": "g", "type": "nominal", "scale": {"domain": ["EP - Non-transfection","EP - Non-target sgRNA:Cas9","EP - TRAC-1 sgRNA:Cas9","µVS - Non-transfection","µVS - Non-target sgRNA:Cas9","µVS - TRAC-1 sgRNA:Cas9"], "paddingInner": 0.3, "paddingOuter": 0.25}, "axis": {"labelAngle": -90, "ticks": false, "labelPadding": 3, "labelFontSize": 4.8, "title": null}},
     "y": {"field": "v", "type": "quantitative", "scale": {"domain": [0, 300], "nice": false}, "axis": {"values": [0, 100, 200, 300], "title": "Live TCR-/CD3- T cells (10^6)"}}
    },
    "layer": [
     {"data": {"name": "barB14"}, "mark": {"type": "bar", "strokeWidth": 0.6},
      "encoding": {
       "fill": {"field": "t", "type": "nominal", "scale": {"domain": ["EP", "µVS"], "range": ["#e6e9fb", "#3563f0"]}, "legend": null},
       "stroke": {"field": "t", "type": "nominal", "scale": {"domain": ["EP", "µVS"], "range": ["#9a9aaa", "#2340c8"]}, "legend": null}}},
     {"data": {"name": "barB14"}, "transform": [{"filter": "datum.e > 0"}], "mark": {"type": "errorbar", "ticks": true, "color": "#222", "thickness": 0.6}, "encoding": {"yError": {"field": "e"}}},
     {"data": {"name": "barB14"}, "transform": [{"filter": "datum.lab != ''"}], "mark": {"type": "text", "fontSize": 5, "align": "left", "baseline": "middle", "dx": 1, "dy": 3},
      "encoding": {"x": {"field": "g", "type": "nominal", "bandPosition": 1, "scale": {"domain": ["EP - Non-transfection","EP - Non-target sgRNA:Cas9","EP - TRAC-1 sgRNA:Cas9","µVS - Non-transfection","µVS - Non-target sgRNA:Cas9","µVS - TRAC-1 sgRNA:Cas9"], "paddingInner": 0.3, "paddingOuter": 0.25}, "axis": {"labelAngle": -90, "ticks": false, "labelPadding": 3, "labelFontSize": 4.8, "title": null}}, "text": {"field": "lab"}}},
     {"data": {"name": "brB14"}, "mark": {"type": "rule", "strokeWidth": 0.6, "color": "#333"}, "encoding": {"x2": {"field": "g2"}}},
     {"data": {"name": "brB14"}, "mark": {"type": "rule", "strokeWidth": 0.6, "color": "#333"}, "encoding": {"y2": {"field": "v0"}}},
     {"data": {"name": "brB14"}, "mark": {"type": "rule", "strokeWidth": 0.6, "color": "#333"},
      "encoding": {"x": {"field": "g2", "type": "nominal", "scale": {"domain": ["EP - Non-transfection","EP - Non-target sgRNA:Cas9","EP - TRAC-1 sgRNA:Cas9","µVS - Non-transfection","µVS - Non-target sgRNA:Cas9","µVS - TRAC-1 sgRNA:Cas9"], "paddingInner": 0.3, "paddingOuter": 0.25}, "axis": {"labelAngle": -90, "ticks": false, "labelPadding": 3, "labelFontSize": 4.8, "title": null}}, "y2": {"field": "v0"}}},
     {"data": {"name": "brB14"}, "mark": {"type": "text", "fontSize": 6, "baseline": "bottom", "dy": 1},
      "encoding": {"x": {"field": "m", "type": "nominal", "bandPosition": 1, "scale": {"domain": ["EP - Non-transfection","EP - Non-target sgRNA:Cas9","EP - TRAC-1 sgRNA:Cas9","µVS - Non-transfection","µVS - Non-target sgRNA:Cas9","µVS - TRAC-1 sgRNA:Cas9"], "paddingInner": 0.3, "paddingOuter": 0.25}, "axis": {"labelAngle": -90, "ticks": false, "labelPadding": 3, "labelFontSize": 4.8, "title": null}}, "text": {"field": "s"}}}
    ]
   }
  ]
 }
 ]
 },
 {
  "spacing": 1,
  "resolve": {"scale": {"color": "independent", "fill": "independent", "stroke": "independent", "shape": "independent"}},
  "hconcat": [
   {
    "title": {"text": "C", "orient": "left", "anchor": "end", "angle": 0, "baseline": "top", "fontSize": 12, "fontWeight": "bold", "offset": 4},
    "hconcat": [
     {
      "title": {"text": "Percentage Live T cells"},
      "width": 105, "height": 71,
      "encoding": {
       "x": {"field": "h", "type": "quantitative", "scale": {"domain": [0, 336], "nice": false}, "axis": {"values": [0, 48, 96, 144, 192, 240, 288, 336], "labelAngle": -60, "title": "Hours post-µVS transfection"}},
       "y": {"field": "v", "type": "quantitative", "scale": {"domain": [60, 100], "nice": false}, "axis": {"values": [60, 70, 80, 90, 100], "title": "Percentage of live cells"}}
      },
      "layer": [
       {"data": {"name": "lineC"}, "mark": {"type": "line", "strokeWidth": 0.8},
        "encoding": {"color": {"field": "g", "type": "nominal", "scale": {"domain": ["µVS - TRAC-1 sgRNA:Cas9","µVS - Non-target sgRNA:Cas9","µVS - Non-transfection"," ","EP - TRAC-1 sgRNA:Cas9","EP - Non-target sgRNA:Cas9","EP - Non-transfection"], "range": ["#3b3bf2","#8a8a8a","#2b2b2b","rgba(0,0,0,0)","#1f9e55","#f6a25a","#f6a040"]}, "legend": {"title": null}}}},
       {"data": {"name": "lineC"}, "transform": [{"filter": "datum.e > 0"}], "mark": {"type": "errorbar", "ticks": true, "thickness": 0.7},
        "encoding": {"yError": {"field": "e"}, "color": {"field": "g", "type": "nominal"}}},
       {"data": {"name": "lineC"}, "mark": {"type": "point", "filled": false, "size": 14, "strokeWidth": 1.1, "opacity": 1},
        "encoding": {
         "color": {"field": "g", "type": "nominal"},
         "fill": {"field": "g", "type": "nominal", "scale": {"domain": ["µVS - TRAC-1 sgRNA:Cas9","µVS - Non-target sgRNA:Cas9","µVS - Non-transfection"," ","EP - TRAC-1 sgRNA:Cas9","EP - Non-target sgRNA:Cas9","EP - Non-transfection"], "range": ["#ffffff","#8a8a8a","#2b2b2b","rgba(0,0,0,0)","#1f9e55","#f6a25a","#f6a040"]}, "legend": {"title": null}},
         "shape": {"field": "g", "type": "nominal", "scale": {"domain": ["µVS - TRAC-1 sgRNA:Cas9","µVS - Non-target sgRNA:Cas9","µVS - Non-transfection"," ","EP - TRAC-1 sgRNA:Cas9","EP - Non-target sgRNA:Cas9","EP - Non-transfection"], "range": ["circle","triangle-down","cross","circle","triangle-up","diamond","square"]}, "legend": {"title": null}}
        }},
       {"data": {"name": "brC"}, "mark": {"type": "rule", "strokeWidth": 0.6, "color": "#444"}, "encoding": {"x2": {"field": "h2"}}},
       {"data": {"name": "brC"}, "mark": {"type": "rule", "strokeWidth": 0.6, "color": "#444"}, "encoding": {"y2": {"field": "v2"}}},
       {"data": {"name": "brC"}, "mark": {"type": "rule", "strokeWidth": 0.6, "color": "#444"},
        "encoding": {"x": {"field": "h2", "type": "quantitative", "scale": {"domain": [0, 336], "nice": false}, "axis": {"values": [0, 48, 96, 144, 192, 240, 288, 336], "labelAngle": -60, "title": "Hours post-µVS transfection"}}, "y2": {"field": "v2"}}},
       {"data": {"name": "brC"}, "mark": {"type": "text", "fontSize": 4, "align": "left", "baseline": "bottom", "dy": -2, "dx": 2}, "encoding": {"text": {"field": "s"}}}
      ]
     }
    ]
   },
   {
    "title": {"text": "D", "orient": "left", "anchor": "end", "angle": 0, "baseline": "top", "fontSize": 12, "fontWeight": "bold", "offset": 4},
    "hconcat": [
     {
      "title": {"text": "Total Live T cells"},
      "width": 103, "height": 71,
      "encoding": {
       "x": {"field": "h", "type": "quantitative", "scale": {"domain": [0, 336], "nice": false}, "axis": {"values": [0, 48, 96, 144, 192, 240, 288, 336], "labelAngle": -60, "title": "Hours post-µVS transfection"}},
       "y": {"field": "v", "type": "quantitative", "scale": {"domain": [0, 1000], "nice": false}, "axis": {"values": [0, 200, 400, 600, 800, 1000], "title": "No. of cells (10^6)"}}
      },
      "layer": [
       {"data": {"name": "lineD"}, "mark": {"type": "line", "strokeWidth": 0.8},
        "encoding": {"color": {"field": "g", "type": "nominal", "scale": {"domain": ["µVS - TRAC-1 sgRNA:Cas9","µVS - Non-transfection","µVS - Non-target sgRNA:Cas9"," ","EP - TRAC-1 sgRNA:Cas9","EP - Non-transfection","EP - Non-target sgRNA:Cas9"], "range": ["#3b3bf2","#2b2b2b","#8a8a8a","rgba(0,0,0,0)","#1f9e55","#f6a040","#f6a25a"]}, "legend": {"title": null}}}},
       {"data": {"name": "lineD"}, "transform": [{"filter": "datum.e > 0"}], "mark": {"type": "errorbar", "ticks": true, "thickness": 0.7},
        "encoding": {"yError": {"field": "e"}, "color": {"field": "g", "type": "nominal"}}},
       {"data": {"name": "lineD"}, "mark": {"type": "point", "filled": false, "size": 14, "strokeWidth": 1.1, "opacity": 1},
        "encoding": {
         "color": {"field": "g", "type": "nominal"},
         "fill": {"field": "g", "type": "nominal", "scale": {"domain": ["µVS - TRAC-1 sgRNA:Cas9","µVS - Non-transfection","µVS - Non-target sgRNA:Cas9"," ","EP - TRAC-1 sgRNA:Cas9","EP - Non-transfection","EP - Non-target sgRNA:Cas9"], "range": ["#ffffff","#2b2b2b","#8a8a8a","rgba(0,0,0,0)","#1f9e55","#f6a040","#f6a25a"]}, "legend": {"title": null}},
         "shape": {"field": "g", "type": "nominal", "scale": {"domain": ["µVS - TRAC-1 sgRNA:Cas9","µVS - Non-transfection","µVS - Non-target sgRNA:Cas9"," ","EP - TRAC-1 sgRNA:Cas9","EP - Non-transfection","EP - Non-target sgRNA:Cas9"], "range": ["circle","cross","triangle-down","circle","triangle-up","square","diamond"]}, "legend": {"title": null}}
        }},
       {"data": {"name": "brD"}, "mark": {"type": "rule", "strokeWidth": 0.6, "color": "#444"}, "encoding": {"x2": {"field": "h2"}}},
       {"data": {"name": "brD"}, "mark": {"type": "rule", "strokeWidth": 0.6, "color": "#444"}, "encoding": {"y2": {"field": "v2"}}},
       {"data": {"name": "brD"}, "mark": {"type": "rule", "strokeWidth": 0.6, "color": "#444"},
        "encoding": {"x": {"field": "h2", "type": "quantitative", "scale": {"domain": [0, 336], "nice": false}, "axis": {"values": [0, 48, 96, 144, 192, 240, 288, 336], "labelAngle": -60, "title": "Hours post-µVS transfection"}}, "y2": {"field": "v2"}}},
       {"data": {"name": "brD"}, "mark": {"type": "text", "fontSize": 4, "align": "left", "baseline": "bottom", "dy": -2, "dx": 2}, "encoding": {"text": {"field": "s"}}}
      ]
     }
    ]
   }
  ]
 }
]
}
